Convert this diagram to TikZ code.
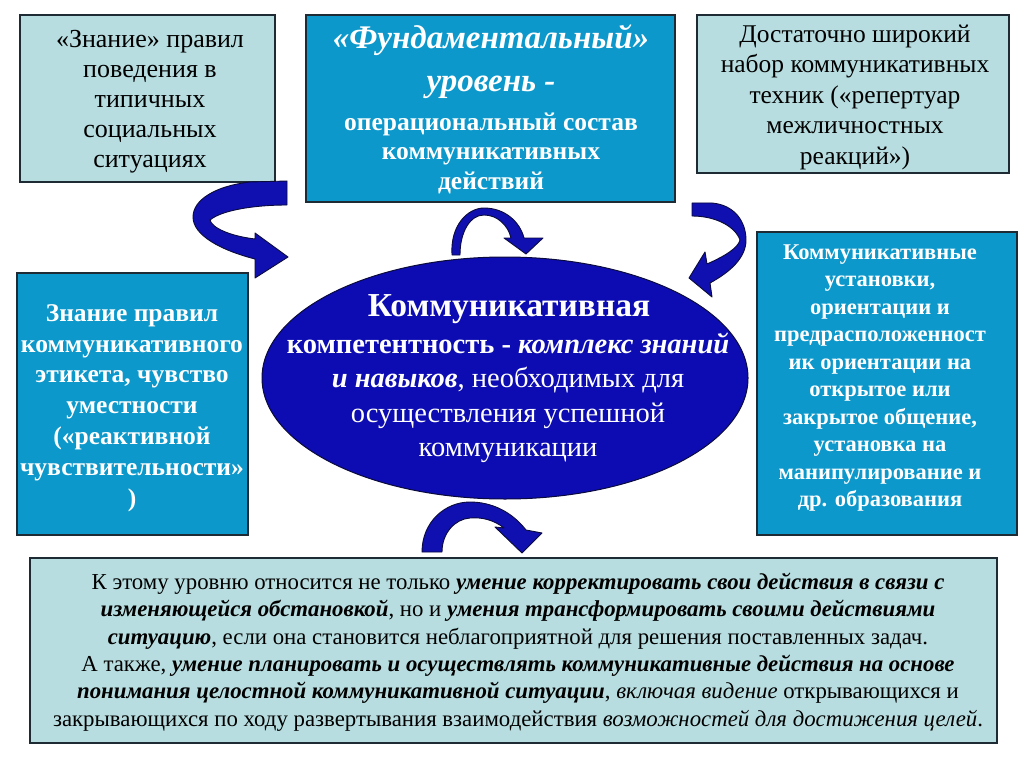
\documentclass[tikz,border=0pt]{standalone}
\usepackage{fontspec}
\setmainfont{Liberation Serif}
\usetikzlibrary{shapes.geometric}
\definecolor{lightc}{RGB}{183,221,224}
\definecolor{bluec}{RGB}{12,152,202}
\definecolor{ellc}{RGB}{12,12,178}
\definecolor{arrc}{RGB}{16,16,176}
\definecolor{bordc}{RGB}{30,42,52}
\definecolor{arrbord}{RGB}{10,10,60}
\tikzset{
  lbox/.style={draw=bordc, line width=1.3pt, fill=lightc, inner sep=0pt, rectangle},
  bbox/.style={draw=bordc, line width=1.3pt, fill=bluec, inner sep=0pt, rectangle},
  txt/.style={inner sep=0pt, align=center, text=black},
  wtxt/.style={inner sep=0pt, align=center, text=white},
  ribbon/.style={fill=arrc, draw=arrbord, line width=0.9pt, line join=round},
}
\begin{document}
\begin{tikzpicture}[x=1pt,y=-1pt]
\useasboundingbox (0,0) rectangle (1024,767);
\fill[white] (0,0) rectangle (1024,767);

% boxes
\node[lbox, minimum width=255pt, minimum height=167pt] (tl) at (147.5,98.5) {};
\node[bbox, minimum width=369pt, minimum height=187pt] (tm) at (490.5,108.5) {};
\node[lbox, minimum width=312pt, minimum height=158pt] (tr) at (853,94) {};
\node[bbox, minimum width=231pt, minimum height=262pt] (lm) at (132.5,404) {};
\node[bbox, minimum width=260pt, minimum height=303pt] (rm) at (887,383.5) {};
\node[lbox, minimum width=967pt, minimum height=185pt] (bt) at (513.5,650.5) {};

% texts
\node[txt, font=\fontsize{26}{30}\selectfont] (tlt) at (150,102)
  {«Знание» правил\\поведения в\\типичных\\социальных\\ситуациях};
\node[wtxt, font=\fontsize{33}{43}\selectfont\bfseries\itshape] (tmt1) at (491,62)
  {«Фундаментальный»\\уровень -};
\node[wtxt, font=\fontsize{25.5}{29.5}\selectfont\bfseries] (tmt2) at (491,153)
  {операциональный состав\\коммуникативных\\действий};
\node[txt, font=\fontsize{25.5}{30.5}\selectfont] (trt) at (855,97)
  {Достаточно широкий\\набор коммуникативных\\техник («репертуар\\межличностных\\реакций»)};
\node[wtxt, font=\fontsize{25.5}{30.8}\selectfont\bfseries] (lmt) at (132,408)
  {Знание правил\\коммуникативного\\этикета, чувство\\уместности\\(«реактивной\\чувствительности»\\)};
\node[wtxt, font=\fontsize{22.5}{27.5}\selectfont\bfseries] (rmt) at (880,378)
  {Коммуникативные\\установки,\\ориентации и\\предрасположенност\\ик ориентации на\\открытое или\\закрытое общение,\\установка на\\манипулирование и\\др. образования};

% arrows (ribbon shapes)
\path[ribbon] (287,181) -- (250,182) .. controls (215,186) and (193,200) .. (193,217)
  .. controls (193,235) and (220,250) .. (255,259) -- (255,278) -- (288,257) -- (255,233)
  -- (255,239) .. controls (230,236) and (212,228) .. (210,220)
  .. controls (222,210) and (255,205) .. (287,205) -- cycle;
\path[ribbon] (452,255) .. controls (450,225) and (468,208) .. (484,208)
  .. controls (505,208) and (520,222) .. (524,238) -- (543,238) -- (526,254) -- (504,238)
  -- (511,238) .. controls (508,225) and (497,215) .. (484,215)
  .. controls (470,215) and (460,232) .. (460,255) -- cycle;
\path[ribbon] (692,203) -- (712,203) .. controls (735,205) and (746,222) .. (746,240)
  .. controls (746,258) and (730,272) .. (710,283) -- (712,297) -- (689,278) -- (705,252)
  -- (707,264) .. controls (725,256) and (738,248) .. (740,240)
  .. controls (735,226) and (715,216) .. (692,216) -- cycle;
\path[ribbon] (422,552) .. controls (422,522) and (445,502) .. (470,502)
  .. controls (492,502) and (512,512) .. (526,530) -- (542,533) -- (522,553) -- (495,527)
  -- (504,528) .. controls (494,520) and (482,517) .. (470,518)
  .. controls (455,519) and (442,533) .. (442,552) -- cycle;

% ellipse
\node[ellipse, draw=arrbord, line width=1pt, fill=ellc, minimum width=486pt, minimum height=242pt, inner sep=0pt] (ell) at (505,378) {};
\node[wtxt, font=\fontsize{33.5}{36}\selectfont\bfseries] (ellt1) at (509,309) {Коммуникативная};
\node[wtxt, font=\fontsize{28.5}{34.5}\selectfont] (ellt2) at (508,398)
  {\textbf{компетентность - \textit{комплекс знаний}}\\\textbf{\textit{и навыков}}, необходимых для\\осуществления успешной\\коммуникации};

% bottom text
\node[txt, font=\fontsize{22.8}{27.4}\selectfont] (btt) at (518,652)
  {К этому уровню относится не только \textbf{\textit{умение корректировать свои действия в связи с}}\\
   \textbf{\textit{изменяющейся обстановкой}}, но и \textbf{\textit{умения трансформировать своими действиями}}\\
   \textbf{\textit{ситуацию}}, если она становится неблагоприятной для решения поставленных задач.\\
   А также, \textbf{\textit{умение планировать и осуществлять коммуникативные действия на основе}}\\
   \textbf{\textit{понимания целостной коммуникативной ситуации}}, \textit{включая видение} открывающихся и\\
   закрывающихся по ходу развертывания взаимодействия \textit{возможностей для достижения целей}.};
\end{tikzpicture}
\end{document}
